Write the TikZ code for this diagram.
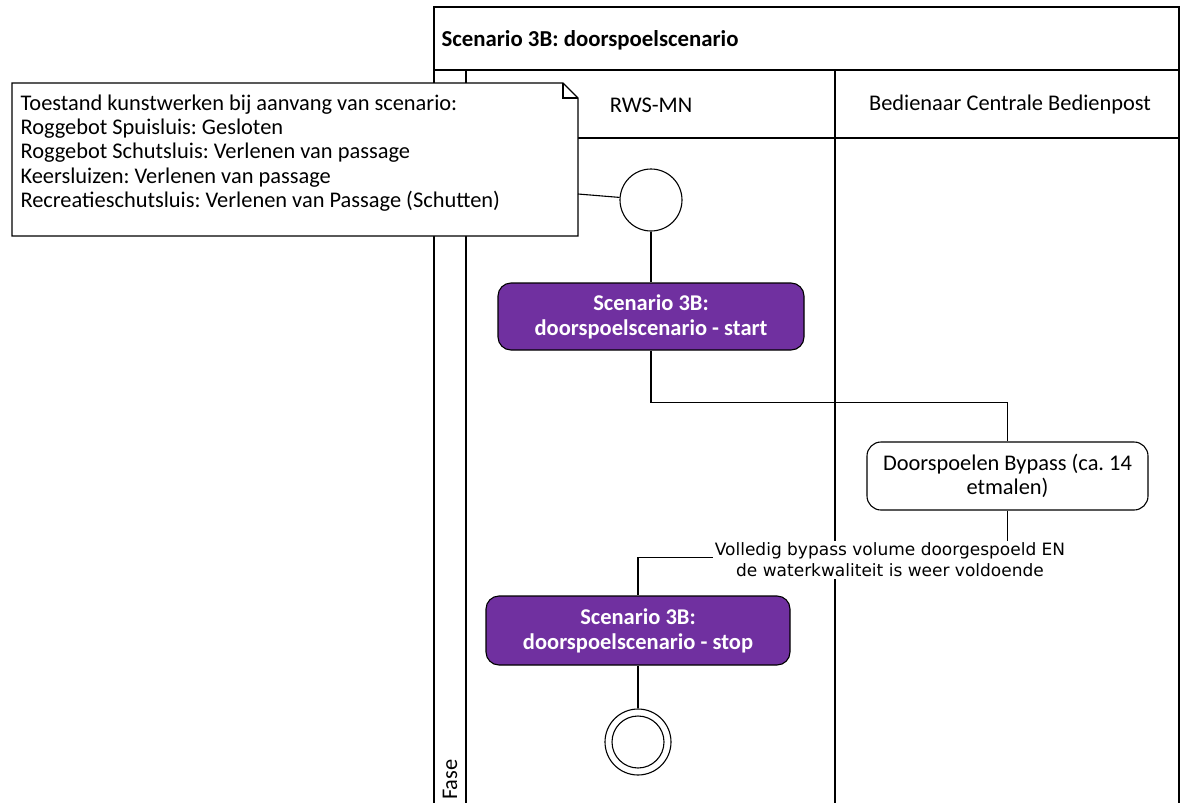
\documentclass[tikz,border=0pt]{standalone}
\usepackage{fontspec}
\setmainfont{Carlito}
\newfontfamily\guardfont{DejaVu Sans}
\definecolor{purp}{HTML}{7030A0}
\frenchspacing
\begin{document}
\frenchspacing
\begin{tikzpicture}[x=1pt,y=-1pt,line width=1.1pt,
  txt/.style={font=\fontsize{22.4}{24.25}\selectfont, inner sep=0pt},
  act/.style={draw=black, fill=purp, rounded corners=13pt, minimum width=306pt, minimum height=67pt,
    text=white, align=center, font=\fontsize{22.5}{25}\selectfont\bfseries, inner sep=2pt},
  task/.style={draw=black, fill=white, rounded corners=14pt, minimum width=281pt, minimum height=68pt,
    align=center, font=\fontsize{22.4}{24.5}\selectfont, inner sep=2pt},
  initnode/.style={draw=black, fill=white, circle, minimum size=62pt, inner sep=0pt},
  endouter/.style={draw=black, fill=white, circle, minimum size=66pt, inner sep=0pt},
  endinner/.style={draw=black, circle, minimum size=52pt, inner sep=0pt},
  guard/.style={fill=white, align=center, font=\guardfont\fontsize{17}{21}\selectfont, inner sep=2pt}]
\useasboundingbox (0,0) rectangle (1181,803);
\clip (0,0) rectangle (1181,803);
% frame
\draw (434,7) rectangle (1179,820);
\draw (434,70) -- (1179,70);
\draw (466,70) -- (466,820);
\draw (466,138) -- (1179,138);
\draw (835,70) -- (835,820);
\node[txt, anchor=west, font=\fontsize{22.8}{24}\selectfont\bfseries] (title) at (441,40) {Scenario 3B: doorspoelscenario};
\node[txt] (lane1) at (651,105) {RWS-MN};
\node[txt] (lane2) at (1010,105) {Bedienaar Centrale Bedienpost};
\node[txt, rotate=90, anchor=west] (fase) at (450,800.5) {Fase};
% note
\draw[fill=white] (12,83) -- (563,83) -- (578,98) -- (578,236) -- (12,236) -- cycle;
\draw (563,83) -- (563,98) -- (578,98);
\node[txt, anchor=west, align=left] (note) at (20,153) {Toestand kunstwerken bij aanvang van scenario:\\Roggebot Spuisluis: Gesloten\\Roggebot Schutsluis: Verlenen van passage\\Keersluizen: Verlenen van passage\\Recreatieschutsluis: Verlenen van Passage (Schutten)};
\coordinate (noteC) at (578,194);
% nodes
\node[initnode] (start) at (651,200) {};
\node[act] (act1) at (651,316.5) {Scenario 3B:\\doorspoelscenario - start};
\node[task] (bypass) at (1007.5,476) {Doorspoelen Bypass (ca. 14\\etmalen)};
\node[act, minimum width=304pt, minimum height=69pt] (stop) at (638,630.5) {Scenario 3B:\\doorspoelscenario - stop};
\node[endouter] (endO) at (638,742) {};
\node[endinner] (endI) at (638,742) {};
% connectors
\draw (noteC) -- (start);
\draw (start) -- (act1);
\draw (act1.south) -- ++(0,52) -| (bypass.north);
\draw (bypass.south) -- ++(0,47) -| (stop.north);
\draw (stop) -- (endO);
\node[guard] (g1) at (890,560) {Volledig bypass volume doorgespoeld EN\\de waterkwaliteit is weer voldoende};
\end{tikzpicture}
\end{document}
